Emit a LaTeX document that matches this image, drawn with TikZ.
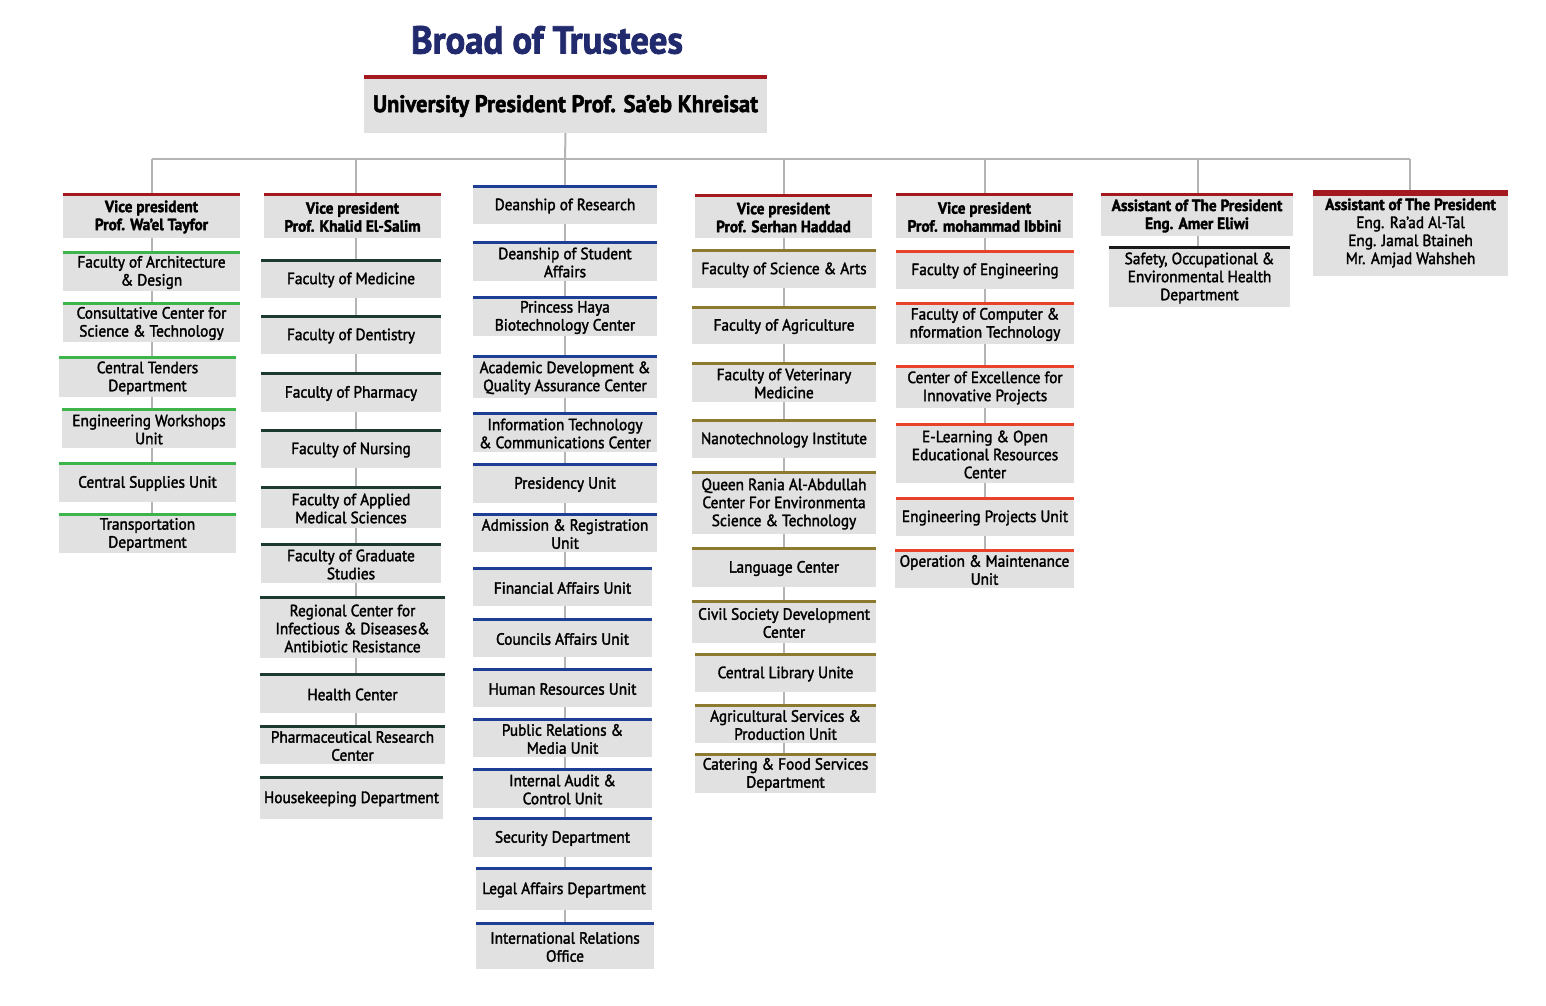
\documentclass[tikz,border=0pt]{standalone}
\usepackage{fontspec}
\setmainfont{PT Sans}[FakeStretch=0.94, FakeBold=2]
\definecolor{boxgray}{HTML}{E1E1E1}
\definecolor{conngray}{HTML}{B4B4B4}
\definecolor{hdrred}{HTML}{A4181F}
\definecolor{leafgreen}{HTML}{3DB54A}
\definecolor{deepgreen}{HTML}{1C3A30}
\definecolor{deanblue}{HTML}{1E3E96}
\definecolor{olivegold}{HTML}{8C7A2E}
\definecolor{flame}{HTML}{E8432A}
\definecolor{safetyblack}{HTML}{1A1A1A}
\definecolor{navy}{HTML}{222A6E}

% \obox[text style]{name}{left}{right}{top}{bottom}{bar colour}{text}
\newcommand\obox[8][]{%
  \node[orgbox, minimum width={#4-#3}, minimum height={#6-#5},
        label={[boxtext,#1]center:{#8}}] (#2)
    at ({(#3+#4)/2},{(#5+#6)/2}) {};
  \draw[topbar=#7] ([yshift=-1.5pt]#2.north west) -- ([yshift=-1.5pt]#2.north east);
}
% \olink{spine}{upper}{lower}
\newcommand\olink[3]{\draw[conn] (#2.south -| #1) -- (#3.north -| #1);}

\begin{document}
\begin{tikzpicture}[x=1pt,y=-1pt,
  orgbox/.style={fill=boxgray, inner sep=0pt},
  boxtext/.style={inner sep=0pt, align=center, yshift=-1.5pt,
    font=\fontsize{16.3}{18}\selectfont, text=black},
  hdrtext/.style={font=\fontsize{16.3}{18}\selectfont\bfseries},
  conn/.style={draw=conngray, line width=2pt},
  topbar/.style={draw=#1, line width=3pt}]

\fill[white] (0,0) rectangle (1546,1005);
\useasboundingbox (0,0) rectangle (1546,1005);

% title and president
\node[font=\fontsize{39}{42}\selectfont\bfseries, text=navy] (title) at (547,40) {Broad of Trustees};
\node[orgbox, minimum width=403, minimum height=58,
      label={[boxtext, yshift=-0.5pt, font=\fontsize{24}{26}\selectfont\bfseries]center:{University President Prof. Sa’eb Khreisat}}]
  (pres) at (565.5,104) {};
\draw[hdrred, line width=4pt] ([yshift=-2pt]pres.north west) -- ([yshift=-2pt]pres.north east);

% spines of the columns
\coordinate (hub) at (565,159);
\coordinate (s1) at (152,159);
\coordinate (s2) at (356,159);
\coordinate (s3) at (565,159);
\coordinate (s4) at (784,159);
\coordinate (s5) at (985,159);
\coordinate (s6) at (1198,159);
\coordinate (s7) at (1410,159);

% column 1
\obox[hdrtext]{vpa}{63}{240}{193}{238}{hdrred}{Vice president\\Prof. Wa’el Tayfor}
\obox{a1}{63}{240}{251}{291}{leafgreen}{Faculty of Architecture\\\& Design}
\obox{a2}{63}{240}{302}{342}{leafgreen}{Consultative Center for\\Science \& Technology}
\obox{a3}{59}{236}{356}{397}{leafgreen}{Central Tenders\\Department}
\obox{a4}{62}{236}{408}{448}{leafgreen}{Engineering Workshops\\Unit}
\obox{a5}{59}{236}{462}{502}{leafgreen}{Central Supplies Unit}
\obox{a6}{59}{236}{513}{553}{leafgreen}{Transportation\\Department}

% column 2
\obox[hdrtext]{vpb}{264}{441}{193}{238}{hdrred}{Vice president\\Prof. Khalid El-Salim}
\obox{b1}{261}{441}{259}{298}{deepgreen}{Faculty of Medicine}
\obox{b2}{261}{441}{315}{354}{deepgreen}{Faculty of Dentistry}
\obox{b3}{261}{441}{372}{412}{deepgreen}{Faculty of Pharmacy}
\obox{b4}{261}{441}{429}{468}{deepgreen}{Faculty of Nursing}
\obox{b5}{261}{441}{486}{528}{deepgreen}{Faculty of Applied\\Medical Sciences}
\obox{b6}{261}{441}{543}{583}{deepgreen}{Faculty of Graduate\\Studies}
\obox{b7}{260}{445}{596}{658}{deepgreen}{Regional Center for\\Infectious \& Diseases\&\\Antibiotic Resistance}
\obox{b8}{260}{445}{673}{713}{deepgreen}{Health Center}
\obox{b9}{260}{445}{725}{764}{deepgreen}{Pharmaceutical Research\\Center}
\obox{b10}{260}{443}{776}{819}{deepgreen}{Housekeeping Department}

% column 3
\obox{c1}{473}{657}{185}{224}{deanblue}{Deanship of Research}
\obox{c2}{473}{657}{241}{281}{deanblue}{Deanship of Student\\Affairs}
\obox{c3}{473}{657}{296}{336}{deanblue}{Princess Haya\\Biotechnology Center}
\obox{c4}{473}{657}{355}{398}{deanblue}{Academic Development \&\\Quality Assurance Center}
\obox{c5}{473}{657}{412}{452}{deanblue}{Information Technology\\\& Communications Center}
\obox{c6}{473}{657}{463}{503}{deanblue}{Presidency Unit}
\obox{c7}{473}{657}{513}{552}{deanblue}{Admission \& Registration\\Unit}
\obox{c8}{473}{652}{567}{606}{deanblue}{Financial Affairs Unit}
\obox{c9}{473}{652}{618}{657}{deanblue}{Councils Affairs Unit}
\obox{c10}{473}{652}{668}{707}{deanblue}{Human Resources Unit}
\obox{c11}{473}{652}{718}{757}{deanblue}{Public Relations \&\\Media Unit}
\obox{c12}{473}{652}{768}{808}{deanblue}{Internal Audit \&\\Control Unit}
\obox{c13}{473}{652}{817}{857}{deanblue}{Security Department}
\obox{c14}{476}{652}{867}{910}{deanblue}{Legal Affairs Department}
\obox{c15}{476}{654}{922}{969}{deanblue}{International Relations\\Office}

% column 4
\obox[hdrtext]{vpd}{695}{872}{194}{238}{hdrred}{Vice president\\Prof. Serhan Haddad}
\obox{d1}{692}{876}{249}{288}{olivegold}{Faculty of Science \& Arts}
\obox{d2}{692}{876}{306}{344}{olivegold}{Faculty of Agriculture}
\obox{d3}{692}{876}{362}{402}{olivegold}{Faculty of Veterinary\\Medicine}
\obox{d4}{692}{876}{419}{458}{olivegold}{Nanotechnology Institute}
\obox{d5}{692}{876}{471}{534}{olivegold}{Queen Rania Al-Abdullah\\Center For Environmenta\\Science \& Technology}
\obox{d6}{692}{876}{547}{587}{olivegold}{Language Center}
\obox{d7}{692}{876}{600}{643}{olivegold}{Civil Society Development\\Center}
\obox{d8}{695}{876}{653}{692}{olivegold}{Central Library Unite}
\obox{d9}{695}{876}{704}{743}{olivegold}{Agricultural Services \&\\Production Unit}
\obox{d10}{695}{876}{753}{793}{olivegold}{Catering \& Food Services\\Department}

% column 5
\obox[hdrtext]{vpe}{896}{1073}{193}{238}{hdrred}{Vice president\\Prof. mohammad Ibbini}
\obox{e1}{896}{1074}{250}{289}{flame}{Faculty of Engineering}
\obox{e2}{896}{1074}{302}{344}{flame}{Faculty of Computer \&\\nformation Technology}
\obox{e3}{896}{1074}{365}{408}{flame}{Center of Excellence for\\Innovative Projects}
\obox{e4}{896}{1074}{423}{483}{flame}{E-Learning \& Open\\Educational Resources\\Center}
\obox{e5}{896}{1074}{497}{536}{flame}{Engineering Projects Unit}
\obox{e6}{895}{1074}{549}{588}{flame}{Operation \& Maintenance\\Unit}

% column 6
\obox[hdrtext]{vpf}{1101}{1293}{193}{236}{hdrred}{Assistant of The President\\Eng. Amer Eliwi}
\obox{f1}{1109}{1290}{246}{307}{safetyblack}{Safety, Occupational \&\\Environmental Health\\Department}

% column 7
\node[orgbox, minimum width=195, minimum height=86,
      label={[boxtext, yshift=1.5pt]center:{\bfseries Assistant of The President\\Eng. Ra’ad Al-Tal\\Eng. Jamal Btaineh\\Mr. Amjad Wahsheh}}]
  (vpg) at (1410.5,233) {};
\draw[hdrred, line width=6pt] ([yshift=-3pt]vpg.north west) -- ([yshift=-3pt]vpg.north east);

% connectors from the president to the columns
\draw[conn] (pres.south) -- (hub);
\draw[conn] (s1) -- (s7);
\draw[conn] (s1) -- (vpa.north -| s1);
\draw[conn] (s2) -- (vpb.north -| s2);
\draw[conn] (s3) -- (c1.north -| s3);
\draw[conn] (s4) -- (vpd.north -| s4);
\draw[conn] (s5) -- (vpe.north -| s5);
\draw[conn] (s6) -- (vpf.north -| s6);
\draw[conn] (s7) -- (vpg.north -| s7);

% connectors inside the columns
\olink{s1}{vpa}{a1}\olink{s1}{a1}{a2}\olink{s1}{a2}{a3}
\olink{s1}{a3}{a4}\olink{s1}{a4}{a5}\olink{s1}{a5}{a6}

\olink{s2}{vpb}{b1}\olink{s2}{b1}{b2}\olink{s2}{b2}{b3}\olink{s2}{b3}{b4}
\olink{s2}{b4}{b5}\olink{s2}{b5}{b6}\olink{s2}{b6}{b7}\olink{s2}{b7}{b8}
\olink{s2}{b8}{b9}

\olink{s3}{c1}{c2}\olink{s3}{c2}{c3}\olink{s3}{c3}{c4}\olink{s3}{c4}{c5}
\olink{s3}{c5}{c6}\olink{s3}{c6}{c7}\olink{s3}{c7}{c8}\olink{s3}{c8}{c9}
\olink{s3}{c9}{c10}\olink{s3}{c10}{c11}\olink{s3}{c11}{c12}\olink{s3}{c12}{c13}
\olink{s3}{c13}{c14}\olink{s3}{c14}{c15}

\olink{s4}{vpd}{d1}\olink{s4}{d1}{d2}\olink{s4}{d2}{d3}\olink{s4}{d3}{d4}
\olink{s4}{d4}{d5}\olink{s4}{d5}{d6}\olink{s4}{d6}{d7}\olink{s4}{d7}{d8}
\olink{s4}{d8}{d9}\olink{s4}{d9}{d10}

\olink{s5}{vpe}{e1}\olink{s5}{e1}{e2}\olink{s5}{e2}{e3}\olink{s5}{e3}{e4}
\olink{s5}{e4}{e5}\olink{s5}{e5}{e6}

\olink{s6}{vpf}{f1}
\end{tikzpicture}
\end{document}
